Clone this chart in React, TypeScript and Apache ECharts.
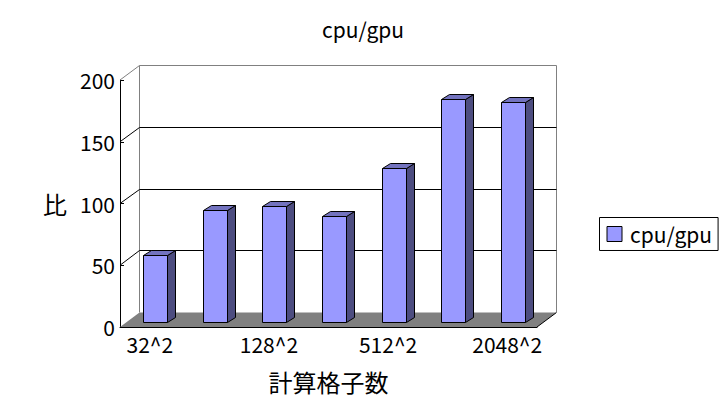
import React, { useEffect, useRef } from "react";
import * as echarts from "echarts";

const categories = ["32^2", "64^2", "128^2", "256^2", "512^2", "1024^2", "2048^2"];
const ratios = [54, 91, 94, 86, 125, 181, 178];
const wallTicks = [0, 50, 100, 150, 200];
const FONT = '"Noto Sans CJK JP", sans-serif';
const DX = 19.5;
const DY = -14.5;
const crisp = (n: number) => Math.floor(n) + 0.5;

export default function App() {
  const ref = useRef<HTMLDivElement>(null);
  useEffect(() => {
    document.body.style.margin = "0";
    const chart = echarts.init(ref.current!, null, { renderer: "svg" });
    chart.setOption({
      animation: false,
      textStyle: { fontFamily: FONT, color: "#000" },
      title: {
        text: "cpu/gpu",
        left: 358,
        top: 13,
        textAlign: "center",
        textStyle: { fontFamily: FONT, fontSize: 21, fontWeight: "normal", color: "#000" },
      },
      legend: {
        data: [{ name: "cpu/gpu", icon: "rect" }],
        left: 599.5,
        top: 217.5,
        padding: [6, 6, 6, 7],
        itemWidth: 15,
        itemHeight: 15,
        itemGap: 0,
        borderColor: "#000",
        borderWidth: 1,
        borderRadius: 0,
        backgroundColor: "#fff",
        itemStyle: { color: "#9999FF", borderColor: "#000", borderWidth: 1 },
        textStyle: { fontFamily: FONT, fontSize: 21, lineHeight: 20, color: "#000", padding: [0, 0, 0, 3] },
      },
      grid: { left: 120, right: 188, top: 80, bottom: 89 },
      xAxis: {
        type: "category",
        data: categories,
        name: "計算格子数",
        nameLocation: "middle",
        nameGap: 42,
        nameTextStyle: { fontFamily: FONT, fontSize: 24, color: "#000" },
        axisLine: { lineStyle: { color: "#000", width: 1 } },
        axisTick: { inside: true, length: 4, lineStyle: { color: "#000" } },
        axisLabel: { interval: 1, fontFamily: FONT, fontSize: 21, color: "#000", margin: 6 },
      },
      yAxis: {
        type: "value",
        min: 0,
        max: 200,
        interval: 50,
        name: "比",
        nameLocation: "middle",
        nameRotate: 0,
        nameGap: 53,
        nameTextStyle: { fontFamily: FONT, fontSize: 24, color: "#000" },
        splitLine: { show: false },
        axisLine: { show: true, lineStyle: { color: "#000", width: 1 } },
        axisTick: { show: true, inside: true, length: 4, lineStyle: { color: "#000" } },
        axisLabel: { fontFamily: FONT, fontSize: 21, color: "#000", margin: 5 },
      },
      series: [
        {
          type: "custom",
          name: "walls",
          silent: true,
          clip: false,
          z: 1,
          data: wallTicks.map((v) => [0, v]),
          encode: { x: 0, y: 1 },
          renderItem: (params: any, api: any) => {
            const cs = params.coordSys;
            const v = api.value(1);
            const y = api.coord([0, v])[1];
            const x0 = cs.x;
            const x1 = cs.x + cs.width;
            const isTop = v === 200;
            const isFloor = v === 0;
            const backY = crisp(y + DY);
            const backX0 = crisp(x0 + DX);
            const backX1 = crisp(x1 + DX);
            const children: any[] = [];
            const line = (a: number, b: number, c: number, d: number, stroke: string) => ({
              type: "line",
              shape: { x1: a, y1: b, x2: c, y2: d },
              style: { stroke, lineWidth: 1, fill: "none" },
            });
            if (isFloor) {
              children.push({
                type: "polygon",
                shape: {
                  points: [
                    [x0, y],
                    [backX0, backY],
                    [backX1, backY],
                    [x1, y],
                  ],
                },
                style: { fill: "#808080", stroke: "none" },
              });
              children.push(line(x1, y, backX1, backY, "#000"));
              const topY = crisp(cs.y + DY);
              children.push(line(backX0, backY, backX0, topY, "#808080"));
              children.push(line(backX1, backY, backX1, topY, "#808080"));
            } else {
              children.push(line(x0, y, backX0, backY, isTop ? "#808080" : "#000"));
              children.push(line(backX0, backY, backX1, backY, isTop ? "#808080" : "#000"));
            }
            return { type: "group", children };
          },
        },
        {
          type: "custom",
          name: "cpu/gpu",
          clip: false,
          z: 3,
          itemStyle: { color: "#9999FF" },
          data: ratios.map((v, i) => [i, v]),
          encode: { x: 0, y: 1 },
          renderItem: (_params: any, api: any) => {
            const i = api.value(0);
            const top = api.coord([i, api.value(1)]);
            const base = api.coord([i, 0]);
            const w = Math.round(api.size([1, 0])[0] * 0.41);
            const l = crisp(top[0] + 6 - w / 2);
            const r = l + w;
            const t = crisp(top[1] - 4.4);
            const b = crisp(base[1] - 4.4);
            const sx = 8;
            const sy = -5;
            const border = { stroke: "#000", lineWidth: 1 };
            return {
              type: "group",
              children: [
                {
                  type: "polygon",
                  shape: { points: [[r, t], [r + sx, t + sy], [r + sx, b + sy], [r, b]] },
                  style: { fill: "#4D4D80", ...border },
                },
                {
                  type: "polygon",
                  shape: { points: [[l, t], [l + sx, t + sy], [r + sx, t + sy], [r, t]] },
                  style: { fill: "#7373BF", ...border },
                },
                {
                  type: "rect",
                  shape: { x: l, y: t, width: w, height: b - t },
                  style: { fill: "#9999FF", ...border },
                },
              ],
            };
          },
        },
      ],
    });
    return () => chart.dispose();
  }, []);
  return <div ref={ref} style={{ width: 725, height: 416 }} />;
}
